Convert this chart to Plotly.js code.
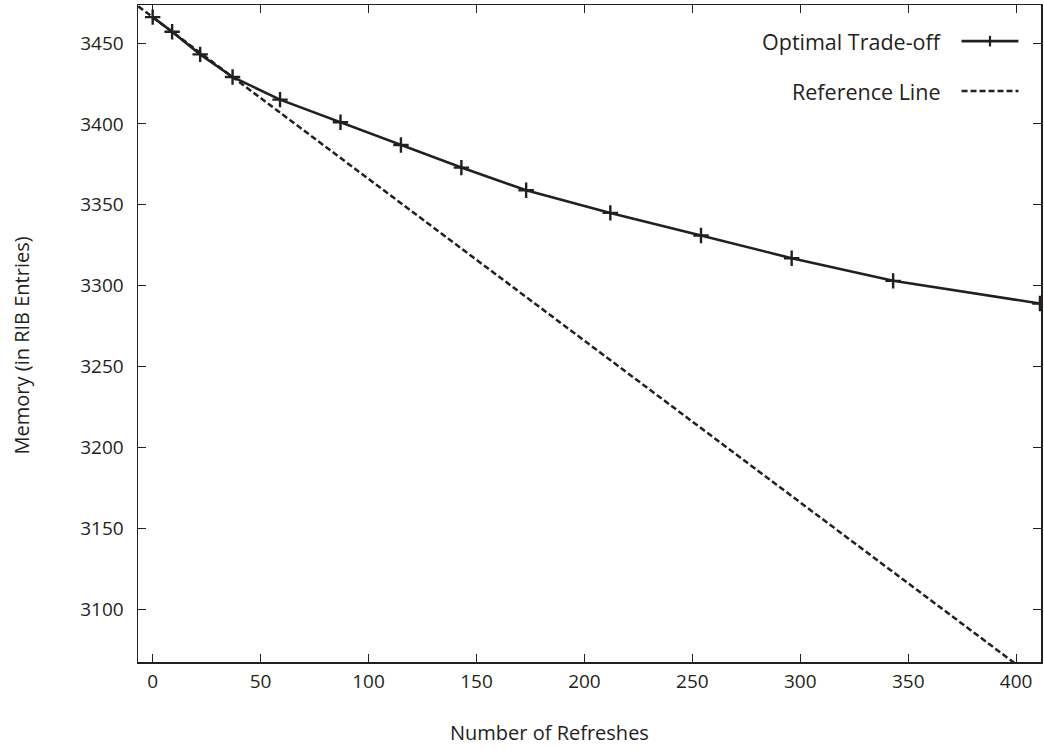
<!DOCTYPE html>
<html>
<head>
<meta charset="utf-8">
<script src="https://cdn.plot.ly/plotly-3.0.1.min.js"></script>
<style>html,body{margin:0;padding:0;background:#fff;}#chart{width:1044px;height:749px;}</style>
</head>
<body>
<div id="chart"></div>
<script>
// Data
const refreshes = [0, 9, 22, 37, 59, 87, 115, 143, 173, 212, 254, 296, 343, 411];
const memory = [3466, 3457, 3443, 3429, 3415, 3401, 3387, 3373, 3359, 3345, 3331, 3317, 3303, 3289];
const refLineX = [-10, 420];
const refLineY = [3476, 3046];
const xTicks = [0, 50, 100, 150, 200, 250, 300, 350, 400];
const yTicks = [3100, 3150, 3200, 3250, 3300, 3350, 3400, 3450];
const seriesNames = ['Optimal Trade-off', 'Reference Line'];
const xTitle = 'Number of Refreshes';
const yTitle = 'Memory (in RIB Entries)';

const ink = '#231f20';
const fam = 'Open Sans, Noto Sans, sans-serif';
const tickFont = {family: fam, size: 19, color: ink};
const titleFont = {family: fam, size: 20, color: ink};
const legendFont = {family: fam, size: 21.5, color: ink};

const traces = [
  {
    x: refLineX, y: refLineY, type: 'scatter', mode: 'lines', name: seriesNames[1],
    line: {color: ink, width: 2.5, dash: '6px,3px'}, showlegend: false, cliponaxis: true
  },
  {
    x: refreshes, y: memory, type: 'scatter', mode: 'lines+markers', name: seriesNames[0],
    line: {color: ink, width: 2.6},
    marker: {symbol: 'cross-thin', size: 11, line: {color: ink, width: 2.4}},
    showlegend: false, cliponaxis: true
  }
];

const axisCommon = {
  showgrid: false, zeroline: false, showline: true, linecolor: ink, linewidth: 1.5,
  mirror: 'allticks', ticks: 'inside', ticklen: 8, tickwidth: 1, tickcolor: ink,
  tickfont: tickFont
};

const layout = {
  width: 1044, height: 749,
  margin: {l: 138, r: 3, t: 5, b: 87},
  paper_bgcolor: '#fff', plot_bgcolor: '#fff',
  font: tickFont,
  showlegend: false,
  xaxis: Object.assign({}, axisCommon, {
    range: [-6.8, 411.5], tickvals: xTicks, ticktext: xTicks.map(String),
    ticklabelstandoff: 2
  }),
  yaxis: Object.assign({}, axisCommon, {
    range: [3067.4, 3473.5], tickvals: yTicks, ticktext: yTicks.map(String),
    ticklabelstandoff: 9
  }),
  annotations: [
    {xref: 'paper', yref: 'paper', x: 0.456, y: -0.108, xanchor: 'center', yanchor: 'middle',
     text: xTitle, showarrow: false, font: titleFont},
    {xref: 'paper', yref: 'paper', x: -0.128, y: 0.4825, xanchor: 'center', yanchor: 'middle',
     text: yTitle, textangle: -90, showarrow: false, font: titleFont},
    {xref: 'paper', yref: 'paper', x: 0.891, y: 0.945, xanchor: 'right', yanchor: 'middle',
     text: seriesNames[0], showarrow: false, font: legendFont},
    {xref: 'paper', yref: 'paper', x: 0.891, y: 0.869, xanchor: 'right', yanchor: 'middle',
     text: seriesNames[1], showarrow: false, font: legendFont}
  ],
  shapes: [
    {type: 'line', xref: 'paper', yref: 'paper', x0: 0.912, x1: 0.975, y0: 0.945, y1: 0.945,
     line: {color: ink, width: 2.6}},
    {type: 'line', xref: 'paper', yref: 'paper', x0: 0.9435, x1: 0.9435, y0: 0.937, y1: 0.953,
     line: {color: ink, width: 2.2}},
    {type: 'line', xref: 'paper', yref: 'paper', x0: 0.912, x1: 0.975, y0: 0.869, y1: 0.869,
     line: {color: ink, width: 2.5, dash: '6px,3px'}}
  ]
};

Plotly.newPlot('chart', traces, layout, {displayModeBar: false, staticPlot: true});
</script>
</body>
</html>
